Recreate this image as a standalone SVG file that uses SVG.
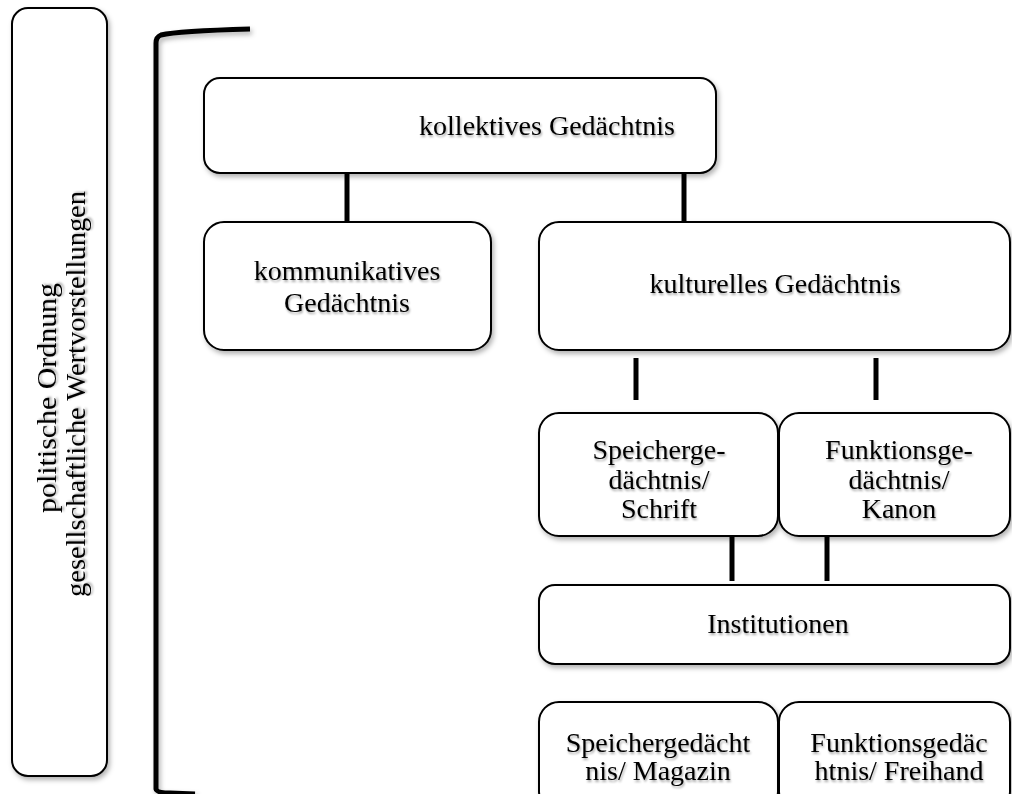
<svg xmlns="http://www.w3.org/2000/svg" width="1012" height="794" viewBox="0 0 1012 794">
<defs>
<filter id="sh" x="-10%" y="-10%" width="130%" height="130%">
<feDropShadow dx="2" dy="3" stdDeviation="2.5" flood-color="#000" flood-opacity="0.3"/>
</filter>
<filter id="tsh" x="-10%" y="-30%" width="130%" height="160%">
<feDropShadow dx="1" dy="2" stdDeviation="1.2" flood-color="#000" flood-opacity="0.35"/>
</filter>
<clipPath id="lc"><rect x="12" y="8" width="95" height="588"/></clipPath>
</defs>
<style>
.box{fill:#fff;stroke:#000;stroke-width:2;filter:url(#sh)}
.t{font-family:"Liberation Serif","DejaVu Serif",serif;font-size:28px;fill:#000;text-anchor:middle;filter:url(#tsh)}
.l{font-size:27px}
.c{stroke:#000;stroke-width:5;fill:none}
</style>
<g id="rahmen">
<rect class="box" x="12" y="8" width="95" height="768" rx="16"/>
<g clip-path="url(#lc)">
<text class="t l" transform="translate(56 398) rotate(-90)" textLength="230" lengthAdjust="spacingAndGlyphs">politische Ordnung</text>
<text class="t l" transform="translate(85 394) rotate(-90)" textLength="406" lengthAdjust="spacingAndGlyphs">gesellschaftliche Wertvorstellungen</text>
</g>
</g>
<g id="klammer">
<path d="M250 29 Q178 31 161 35 Q156 37 156 43 L156 789 Q157 793 170 793 L195 794" fill="none" stroke="#000" stroke-width="5" filter="url(#sh)"/>
</g>
<g id="connectors">
<line class="c" x1="347" y1="173" x2="347" y2="222"/>
<line class="c" x1="684" y1="173" x2="684" y2="222"/>
<line class="c" x1="636" y1="358" x2="636" y2="400"/>
<line class="c" x1="876" y1="358" x2="876" y2="400"/>
<line class="c" x1="732" y1="536" x2="732" y2="581"/>
<line class="c" x1="827" y1="536" x2="827" y2="581"/>
</g>
<g id="kollektiv">
<rect class="box" x="204" y="78" width="512" height="95" rx="16"/>
<text class="t" x="547" y="135">kollektives Gedächtnis</text>
</g>
<g id="kommunikativ">
<rect class="box" x="204" y="222" width="287" height="128" rx="20"/>
<text class="t" x="347" y="280">kommunikatives</text>
<text class="t" x="347" y="312">Gedächtnis</text>
</g>
<g id="kulturell">
<rect class="box" x="539" y="222" width="471" height="128" rx="20"/>
<text class="t" x="775" y="293">kulturelles Gedächtnis</text>
</g>
<g id="speicher">
<rect class="box" x="539" y="413" width="239" height="123" rx="20"/>
<text class="t" x="659" y="459">Speicherge-</text>
<text class="t" x="659" y="489">dächtnis/</text>
<text class="t" x="659" y="518">Schrift</text>
</g>
<g id="funktion">
<rect class="box" x="779" y="413" width="231" height="123" rx="20"/>
<text class="t" x="899" y="459">Funktionsge-</text>
<text class="t" x="899" y="489">dächtnis/</text>
<text class="t" x="899" y="518">Kanon</text>
</g>
<g id="institutionen">
<rect class="box" x="539" y="585" width="471" height="79" rx="16"/>
<text class="t" x="778" y="633">Institutionen</text>
</g>
<g id="magazin">
<rect class="box" x="539" y="702" width="239" height="110" rx="20"/>
<text class="t" x="658" y="752">Speichergedächt</text>
<text class="t" x="658" y="780">nis/ Magazin</text>
</g>
<g id="freihand">
<rect class="box" x="779" y="702" width="231" height="110" rx="20"/>
<text class="t" x="899" y="752">Funktionsgedäc</text>
<text class="t" x="899" y="780">htnis/ Freihand</text>
</g>
</svg>
